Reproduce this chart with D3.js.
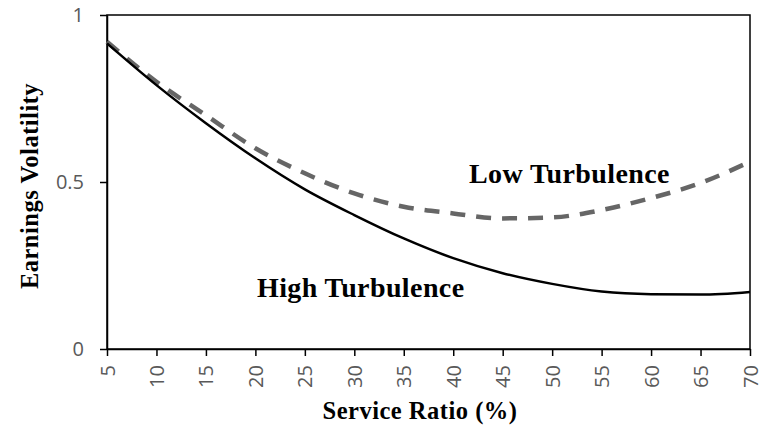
<!DOCTYPE html>
<html>
<head>
<meta charset="utf-8">
<script src="https://cdn.jsdelivr.net/npm/d3@7"></script>
<style>
  body { margin: 0; background: #fff; }
  svg { display: block; }
</style>
</head>
<body>
<svg id="chart" width="767" height="425"></svg>
<script>
// values
var ratio = [5, 10, 15, 20, 25, 30, 35, 40, 45, 50, 55, 60, 65, 70];
var highTurb = [0.915, 0.79, 0.676, 0.571, 0.478, 0.401, 0.331, 0.272, 0.227, 0.195, 0.172, 0.164, 0.163, 0.171];
var lowTurb = [0.92, 0.80, 0.70, 0.601, 0.526, 0.466, 0.426, 0.406, 0.391, 0.394, 0.416, 0.452, 0.497, 0.561];
var yTicks = [0, 0.5, 1];
var yTickLabels = ['0', '0.5', '1'];

var svg = d3.select('#chart');
var margin = { top: 15, right: 17, bottom: 76, left: 107 };
var width = 767 - margin.left - margin.right;
var height = 425 - margin.top - margin.bottom;

var x = d3.scaleLinear().domain([5, 70]).range([0, width]);
var y = d3.scaleLinear().domain([0, 1]).range([height, 0]);

var g = svg.append('g')
    .attr('transform', 'translate(' + margin.left + ',' + margin.top + ')');

// plot frame
g.append('rect')
    .attr('width', width)
    .attr('height', height)
    .attr('fill', 'none')
    .attr('stroke', '#000')
    .attr('stroke-width', 1.5);

var yAxis = g.append('g')
    .call(d3.axisLeft(y).tickValues(yTicks)
        .tickFormat(function (d, i) { return yTickLabels[i]; })
        .tickSizeInner(7).tickSizeOuter(0).tickPadding(16));
yAxis.select('.domain').attr('stroke', '#000').attr('stroke-width', 1.5);
yAxis.selectAll('line').attr('stroke', '#000').attr('stroke-width', 1.5);
yAxis.selectAll('text')
    .attr('fill', '#595959')
    .style('font-family', 'Open Sans')
    .style('font-size', '20px');

var xAxis = g.append('g')
    .attr('transform', 'translate(0,' + height + ')')
    .call(d3.axisBottom(x).tickValues(ratio)
        .tickSizeInner(7).tickSizeOuter(0));
xAxis.select('.domain').attr('stroke', '#000').attr('stroke-width', 1.5);
xAxis.selectAll('line').attr('stroke', '#000').attr('stroke-width', 1.5);
xAxis.selectAll('text')
    .attr('fill', '#595959')
    .style('font-family', 'Open Sans')
    .style('font-size', '20px')
    .attr('text-anchor', 'end')
    .attr('dy', '0.35em')
    .attr('transform', 'translate(0,2) rotate(-90)')
    .attr('x', -14)
    .attr('y', 0);

var line = d3.line()
    .x(function (d, i) { return x(ratio[i]); })
    .y(function (d) { return y(d); })
    .curve(d3.curveMonotoneX);

g.append('path')
    .datum(lowTurb)
    .attr('d', line)
    .attr('fill', 'none')
    .attr('stroke', '#666666')
    .attr('stroke-width', 4.5)
    .attr('stroke-dasharray', '15,11');

g.append('path')
    .datum(highTurb)
    .attr('d', line)
    .attr('fill', 'none')
    .attr('stroke', '#000')
    .attr('stroke-width', 2.5);

var serif = 'Liberation Serif';

g.append('text')
    .attr('x', 469 - margin.left)
    .attr('y', 183 - margin.top)
    .style('font-family', serif)
    .style('font-weight', 'bold')
    .style('font-size', '28px')
    .style('letter-spacing', '0.4px')
    .text('Low Turbulence');

g.append('text')
    .attr('x', 257 - margin.left)
    .attr('y', 297 - margin.top)
    .style('font-family', serif)
    .style('font-weight', 'bold')
    .style('font-size', '28px')
    .style('letter-spacing', '0.4px')
    .text('High Turbulence');

svg.append('text')
    .attr('x', 420)
    .attr('y', 419)
    .attr('text-anchor', 'middle')
    .style('font-family', serif)
    .style('font-weight', 'bold')
    .style('font-size', '24.5px')
    .style('letter-spacing', '0.5px')
    .text('Service Ratio (%)');

svg.append('text')
    .attr('transform', 'translate(38,186) rotate(-90)')
    .attr('text-anchor', 'middle')
    .style('font-family', serif)
    .style('font-weight', 'bold')
    .style('font-size', '24.5px')
    .style('letter-spacing', '0.5px')
    .text('Earnings Volatility');
</script>
</body>
</html>
